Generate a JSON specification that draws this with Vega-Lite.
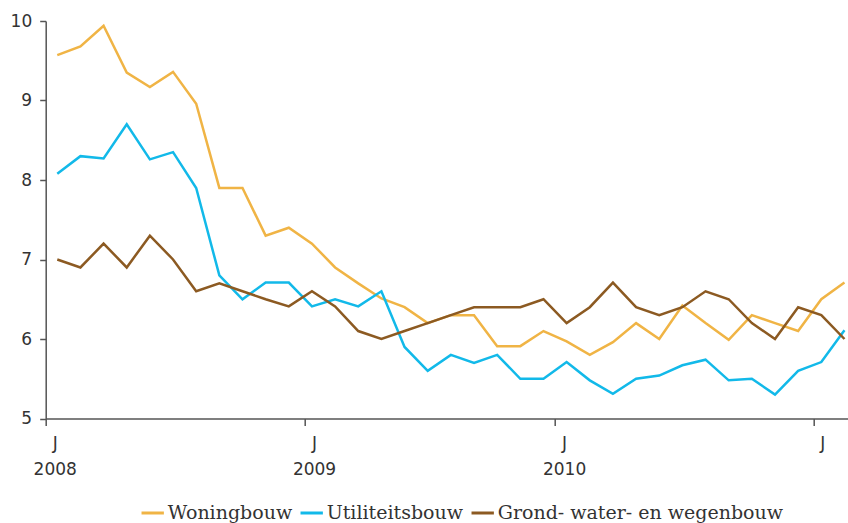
{
  "$schema": "https://vega.github.io/schema/vega-lite/v6.json",
  "autosize": "none",
  "width": 802,
  "height": 397.5,
  "padding": {"left": 45.7, "top": 21, "right": 0.3, "bottom": 104.5},
  "background": "white",
  "config": {"view": {"stroke": null}},
  "data": {
    "values": [
      {"m":0,"s":"Woningbouw","v":9.57},{"m":1,"s":"Woningbouw","v":9.68},{"m":2,"s":"Woningbouw","v":9.94},{"m":3,"s":"Woningbouw","v":9.35},{"m":4,"s":"Woningbouw","v":9.17},{"m":5,"s":"Woningbouw","v":9.36},{"m":6,"s":"Woningbouw","v":8.96},{"m":7,"s":"Woningbouw","v":7.90},{"m":8,"s":"Woningbouw","v":7.90},{"m":9,"s":"Woningbouw","v":7.30},{"m":10,"s":"Woningbouw","v":7.40},{"m":11,"s":"Woningbouw","v":7.20},{"m":12,"s":"Woningbouw","v":6.90},{"m":13,"s":"Woningbouw","v":6.70},{"m":14,"s":"Woningbouw","v":6.51},{"m":15,"s":"Woningbouw","v":6.40},{"m":16,"s":"Woningbouw","v":6.20},{"m":17,"s":"Woningbouw","v":6.30},{"m":18,"s":"Woningbouw","v":6.30},{"m":19,"s":"Woningbouw","v":5.91},{"m":20,"s":"Woningbouw","v":5.91},{"m":21,"s":"Woningbouw","v":6.10},{"m":22,"s":"Woningbouw","v":5.97},{"m":23,"s":"Woningbouw","v":5.80},{"m":24,"s":"Woningbouw","v":5.96},{"m":25,"s":"Woningbouw","v":6.20},{"m":26,"s":"Woningbouw","v":6.00},{"m":27,"s":"Woningbouw","v":6.42},{"m":28,"s":"Woningbouw","v":6.20},{"m":29,"s":"Woningbouw","v":5.99},{"m":30,"s":"Woningbouw","v":6.30},{"m":31,"s":"Woningbouw","v":6.20},{"m":32,"s":"Woningbouw","v":6.10},{"m":33,"s":"Woningbouw","v":6.50},{"m":34,"s":"Woningbouw","v":6.71},
      {"m":0,"s":"Utiliteitsbouw","v":8.08},{"m":1,"s":"Utiliteitsbouw","v":8.30},{"m":2,"s":"Utiliteitsbouw","v":8.27},{"m":3,"s":"Utiliteitsbouw","v":8.70},{"m":4,"s":"Utiliteitsbouw","v":8.26},{"m":5,"s":"Utiliteitsbouw","v":8.35},{"m":6,"s":"Utiliteitsbouw","v":7.90},{"m":7,"s":"Utiliteitsbouw","v":6.80},{"m":8,"s":"Utiliteitsbouw","v":6.50},{"m":9,"s":"Utiliteitsbouw","v":6.71},{"m":10,"s":"Utiliteitsbouw","v":6.71},{"m":11,"s":"Utiliteitsbouw","v":6.41},{"m":12,"s":"Utiliteitsbouw","v":6.50},{"m":13,"s":"Utiliteitsbouw","v":6.41},{"m":14,"s":"Utiliteitsbouw","v":6.60},{"m":15,"s":"Utiliteitsbouw","v":5.90},{"m":16,"s":"Utiliteitsbouw","v":5.60},{"m":17,"s":"Utiliteitsbouw","v":5.80},{"m":18,"s":"Utiliteitsbouw","v":5.70},{"m":19,"s":"Utiliteitsbouw","v":5.80},{"m":20,"s":"Utiliteitsbouw","v":5.50},{"m":21,"s":"Utiliteitsbouw","v":5.50},{"m":22,"s":"Utiliteitsbouw","v":5.71},{"m":23,"s":"Utiliteitsbouw","v":5.48},{"m":24,"s":"Utiliteitsbouw","v":5.31},{"m":25,"s":"Utiliteitsbouw","v":5.50},{"m":26,"s":"Utiliteitsbouw","v":5.54},{"m":27,"s":"Utiliteitsbouw","v":5.67},{"m":28,"s":"Utiliteitsbouw","v":5.74},{"m":29,"s":"Utiliteitsbouw","v":5.48},{"m":30,"s":"Utiliteitsbouw","v":5.50},{"m":31,"s":"Utiliteitsbouw","v":5.30},{"m":32,"s":"Utiliteitsbouw","v":5.60},{"m":33,"s":"Utiliteitsbouw","v":5.71},{"m":34,"s":"Utiliteitsbouw","v":6.11},
      {"m":0,"s":"Grond- water- en wegenbouw","v":7.00},{"m":1,"s":"Grond- water- en wegenbouw","v":6.90},{"m":2,"s":"Grond- water- en wegenbouw","v":7.20},{"m":3,"s":"Grond- water- en wegenbouw","v":6.90},{"m":4,"s":"Grond- water- en wegenbouw","v":7.30},{"m":5,"s":"Grond- water- en wegenbouw","v":7.00},{"m":6,"s":"Grond- water- en wegenbouw","v":6.60},{"m":7,"s":"Grond- water- en wegenbouw","v":6.70},{"m":8,"s":"Grond- water- en wegenbouw","v":6.60},{"m":9,"s":"Grond- water- en wegenbouw","v":6.50},{"m":10,"s":"Grond- water- en wegenbouw","v":6.41},{"m":11,"s":"Grond- water- en wegenbouw","v":6.60},{"m":12,"s":"Grond- water- en wegenbouw","v":6.41},{"m":13,"s":"Grond- water- en wegenbouw","v":6.10},{"m":14,"s":"Grond- water- en wegenbouw","v":6.00},{"m":15,"s":"Grond- water- en wegenbouw","v":6.10},{"m":16,"s":"Grond- water- en wegenbouw","v":6.20},{"m":17,"s":"Grond- water- en wegenbouw","v":6.30},{"m":18,"s":"Grond- water- en wegenbouw","v":6.40},{"m":19,"s":"Grond- water- en wegenbouw","v":6.40},{"m":20,"s":"Grond- water- en wegenbouw","v":6.40},{"m":21,"s":"Grond- water- en wegenbouw","v":6.50},{"m":22,"s":"Grond- water- en wegenbouw","v":6.20},{"m":23,"s":"Grond- water- en wegenbouw","v":6.40},{"m":24,"s":"Grond- water- en wegenbouw","v":6.71},{"m":25,"s":"Grond- water- en wegenbouw","v":6.40},{"m":26,"s":"Grond- water- en wegenbouw","v":6.30},{"m":27,"s":"Grond- water- en wegenbouw","v":6.40},{"m":28,"s":"Grond- water- en wegenbouw","v":6.60},{"m":29,"s":"Grond- water- en wegenbouw","v":6.50},{"m":30,"s":"Grond- water- en wegenbouw","v":6.20},{"m":31,"s":"Grond- water- en wegenbouw","v":6.00},{"m":32,"s":"Grond- water- en wegenbouw","v":6.40},{"m":33,"s":"Grond- water- en wegenbouw","v":6.30},{"m":34,"s":"Grond- water- en wegenbouw","v":6.00}
    ]
  },
  "mark": {"type": "line", "strokeWidth": 2.5, "strokeJoin": "miter", "clip": false},
  "encoding": {
    "x": {
      "field": "m", "type": "quantitative",
      "scale": {"domain": [-0.5, 34.14], "nice": false, "zero": false},
      "axis": {
        "title": null, "grid": false,
        "values": [-0.5, 10.7, 21.5, 32.65],
        "labelExpr": "datum.value < 5 ? ['J','2008'] : datum.value < 15 ? ['J','2009'] : datum.value < 25 ? ['J','2010'] : ['J','']",
        "labelFont": "DejaVu Sans", "labelFontSize": 17, "labelColor": "#333",
        "labelAlign": "center", "labelBaseline": "top", "labelOffset": 9,
        "labelPadding": 10, "labelLineHeight": 26,
        "tickSize": 7, "tickColor": "#555", "tickWidth": 1.5,
        "domainColor": "#555", "domainWidth": 1.5,
        "labelFlush": false, "labelOverlap": false
      }
    },
    "y": {
      "field": "v", "type": "quantitative",
      "scale": {"domain": [5, 10], "nice": false, "zero": false},
      "axis": {
        "title": null, "grid": false, "values": [5, 6, 7, 8, 9, 10],
        "labelFont": "DejaVu Sans", "labelFontSize": 17, "labelColor": "#333",
        "labelPadding": 8, "tickSize": 6, "tickColor": "#555", "tickWidth": 1.5,
        "domainColor": "#555", "domainWidth": 1.5
      }
    },
    "color": {
      "field": "s", "type": "nominal",
      "scale": {
        "domain": ["Woningbouw", "Utiliteitsbouw", "Grond- water- en wegenbouw"],
        "range": ["#F0B445", "#12B9E9", "#8C5A22"]
      },
      "legend": {
        "title": null, "orient": "none", "direction": "horizontal",
        "legendX": 94, "legendY": 479,
        "symbolType": "stroke", "symbolSize": 500, "symbolStrokeWidth": 3,
        "labelFont": "DejaVu Serif", "labelFontSize": 19, "labelColor": "#333",
        "labelOffset": 2, "columnPadding": 1, "labelLimit": 400
      }
    }
  }
}
